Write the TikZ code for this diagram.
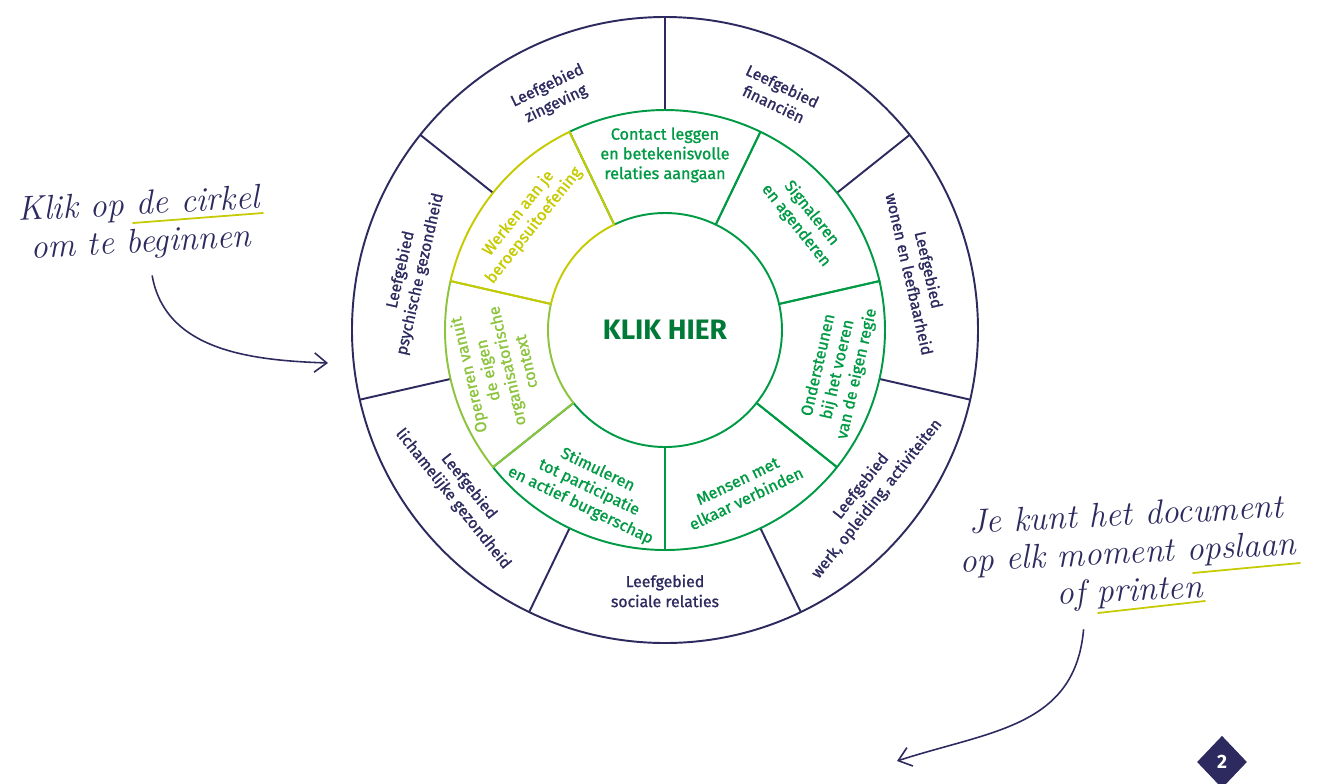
\documentclass[tikz,border=0pt]{standalone}
\usepackage{fontspec}
\setsansfont{Fira Sans}
\newfontfamily\ringfont{Fira Sans}[FakeBold=1.2]
\usetikzlibrary{arrows.meta,shapes.geometric}
\definecolor{navy}{RGB}{44,42,94}
\definecolor{ringgreen}{RGB}{0,154,68}
\definecolor{darkgreen}{RGB}{0,122,55}
\definecolor{ringlime}{RGB}{140,196,62}
\definecolor{ringyellow}{RGB}{198,202,0}
\newcommand{\ringlabel}[4][]{\node[align=center,#1] at (#2) (#3) {#4}}

\begin{document}
\begin{tikzpicture}[
  >={Straight Barb[length=7pt,width=11pt]},
  navyline/.style={navy,line width=1.1pt},
  outerlabel/.style={navy,font=\ringfont\fontsize{9}{11.4}\selectfont},
  innerlabel/.style={ringgreen,font=\ringfont\fontsize{9.2}{11.2}\selectfont},
  hand/.style={navy,align=center,font=\itshape\fontsize{19.5}{21.5}\selectfont},
  underline/.style={ringyellow,line width=1pt,line cap=round},
]
\useasboundingbox (-13.30,-9.06) rectangle (13.08,6.60);
\clip (-13.30,-9.06) rectangle (13.08,6.60);

% outer ring: leefgebieden
\draw[navyline] (0,0) circle (6.26);
\foreach \k in {0,...,6}
  \draw[navyline] ({90+\k*360/7}:4.4) -- ({90+\k*360/7}:6.26);

% green ring, lime and yellow last so their borders stay on top
\foreach \k/\col in {6/ringgreen,0/ringgreen,1/ringgreen,2/ringgreen,3/ringgreen,5/ringlime,4/ringyellow}
  \draw[\col,line width=1.1pt,line join=round] ({-90+\k*360/7}:2.34) -- ({-90+\k*360/7}:4.4)
    arc[start angle={-90+\k*360/7},delta angle={360/7},radius=4.4]
    -- ({-90+(\k+1)*360/7}:2.34)
    arc[start angle={-90+(\k+1)*360/7},delta angle={-360/7},radius=2.34] -- cycle;

\node[darkgreen,font=\sffamily\bfseries\fontsize{16}{16}\selectfont] (hub) at (0,0) {KLIK HIER};

\ringlabel[outerlabel,rotate=25.71]{115.71:5.22}{zingeving}{Leefgebied\\zingeving};
\ringlabel[outerlabel,rotate=77.14]{167.14:5.22}{psychisch}{Leefgebied\\psychische gezondheid};
\ringlabel[outerlabel,rotate=-51.43]{218.57:5.22}{lichamelijk}{Leefgebied\\lichamelijke gezondheid};
\ringlabel[outerlabel]{270:5.22}{sociaal}{Leefgebied\\sociale relaties};
\ringlabel[outerlabel,rotate=51.43]{321.43:5.22}{werk}{Leefgebied\\werk, opleiding, activiteiten};
\ringlabel[outerlabel,rotate=-77.14]{12.86:5.22}{wonen}{Leefgebied\\wonen en leefbaarheid};
\ringlabel[outerlabel,rotate=-25.71]{64.29:5.22}{financien}{Leefgebied\\financiën};

\ringlabel[innerlabel,rotate=25.71]{-64.29:3.55}{verbinden}{Mensen met\\elkaar verbinden};
\ringlabel[innerlabel,rotate=77.14]{-12.86:3.55}{regie}{Ondersteunen\\bij het voeren\\van de eigen regie};
\ringlabel[innerlabel,rotate=-51.43]{38.57:3.55}{signaleren}{Signaleren\\en agenderen};
\ringlabel[innerlabel]{90:3.5}{contact}{Contact leggen\\en betekenisvolle\\relaties aangaan};
\ringlabel[innerlabel,ringyellow,rotate=51.43]{141.43:3.55}{beroep}{Werken aan je\\beroepsuitoefening};
\ringlabel[innerlabel,ringlime,rotate=102.86]{192.86:3.45}{opereren}{Opereren vanuit\\de eigen\\organisatorische\\context};
\ringlabel[innerlabel,rotate=-25.71]{244.29:3.5}{stimuleren}{Stimuleren\\tot participatie\\en actief burgerschap};

% handwritten notes
\node[hand,rotate=3] (klik) at (-10.5,2.1) {Klik op de cirkel\\om te beginnen};
\node[hand,rotate=3] (opslaan) at (9.26,-4.5) {Je kunt het document\\op elk moment opslaan\\of printen};
\draw[underline] (-10.64,2.14) -- (-8.04,2.34);
\draw[underline] (10.56,-4.86) -- (12.7,-4.66);
\draw[underline] (8.66,-5.66) -- (10.8,-5.42);

\coordinate (klikarrow) at (-6.74,-0.66);
\coordinate (savearrow) at (4.64,-8.62);
\draw[->,navy,line width=0.9pt] ([shift={(0.2,-0.2)}]klik.south) to[out=-80,in=178] (klikarrow);
\draw[->,navy,line width=0.9pt] ([shift={(-0.95,-0.3)}]opslaan.south) to[out=-95,in=18,looseness=1.1] (savearrow);

\node[diamond,fill=navy,text=white,minimum width=1.0cm,minimum height=1.05cm,inner sep=0pt,
  font=\sffamily\bfseries\fontsize{11}{11}\selectfont] (pagenum) at (11.14,-8.64) {2};
\end{tikzpicture}
\end{document}
